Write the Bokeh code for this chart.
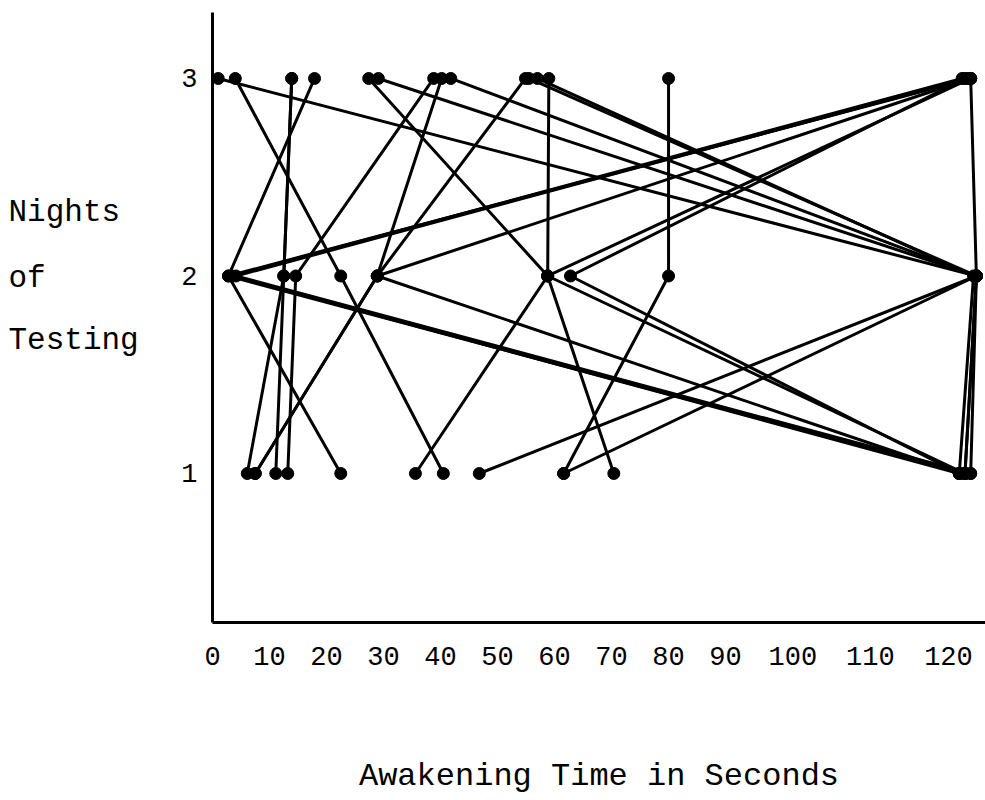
from bokeh.plotting import figure
from bokeh.models import Range1d, FixedTicker
from bokeh.layouts import row
from bokeh.core.properties import value
from bokeh.embed import file_html
from bokeh.resources import INLINE

# Awakening time (seconds) for each subject on nights 1, 2 and 3.
# Values plotted at ~133 are the "120+" (no awakening within 120 s) column at the right edge.
night1 = [22.5, 40.5, 35.6, 46.8, 61.6, 61.6, 70.4, 6.1, 11.1, 13.2, 7.5, 7.5,
          132, 131, 133, 131, 132, 131, 132, 131, 132, 133]
night2 = [2.8, 22.5, 58.8, 134, 80, 134, 58.8, 12.5, 12.5, 14.6, 28.9, 28.9,
          2.8, 3.4, 4.1, 28.9, 58.8, 62.8, 134, 133.5, 134, 134]
night3 = [17.9, 4.0, 27.4, 1.0, 80, 29.1, 59.0, 13.9, 13.9, 38.8, 40.2, 54.9,
          133, 131.5, 132.5, 133, 133, 132, 41.8, 57.0, 55.5, 133]
nights = [1, 2, 3]

x_tick_labels = ["0", "10", "20", "30", "40", "50", "60", "70", "80", "90", "100", "110", "120"]
x_tick_pos = [0, 10, 20, 30, 40, 50, 60, 70, 80, 90, 101.8, 115.4, 129.1]
y_tick_labels = ["1", "2", "3"]
ylabel_lines = ["Nights", "of", "Testing"]

FONT = "Liberation Mono"
TOP, BOTTOM = 12, 178

# ---- left panel holding the stacked y-axis title (ranges in canvas pixels) ----
side = figure(width=150, height=800, output_backend="svg", toolbar_location=None,
              x_range=Range1d(0, 150), y_range=Range1d(800 - BOTTOM, TOP),
              min_border_left=0, min_border_right=0,
              min_border_top=TOP, min_border_bottom=BOTTOM, outline_line_color=None)
side.axis.visible = False
side.grid.visible = False
side.background_fill_color = "white"
side.border_fill_color = "white"
side.text(x=[8, 8, 8], y=[212, 278, 340], text=ylabel_lines,
          text_font=value(FONT), text_font_size="31px", text_color="black",
          text_align="left", text_baseline="middle")

# ---- main chart ----
p = figure(width=835, height=800, output_backend="svg", toolbar_location=None,
           x_range=Range1d(0, 135.6), y_range=Range1d(0.2456, 3.334),
           min_border_left=62, min_border_right=0, min_border_top=TOP, min_border_bottom=BOTTOM)
p.background_fill_color = "white"
p.border_fill_color = "white"
p.outline_line_color = None
p.grid.visible = False

xs = [[a, b, c] for a, b, c in zip(night1, night2, night3)]
ys = [nights for _ in night1]
p.multi_line(xs, ys, line_color="black", line_width=3)

all_x = night1 + night2 + night3
all_y = [1] * len(night1) + [2] * len(night2) + [3] * len(night3)
p.scatter(all_x, all_y, size=12, color="black")

xa = p.xaxis[0]
xa.ticker = FixedTicker(ticks=x_tick_pos)
xa.major_label_overrides = {t: l for t, l in zip(x_tick_pos, x_tick_labels)}
xa.major_tick_line_color = None
xa.minor_tick_line_color = None
xa.axis_line_width = 3
xa.axis_line_color = "black"
xa.major_label_text_font = FONT
xa.major_label_text_font_size = "27px"
xa.major_label_text_color = "black"
xa.major_label_standoff = 18
xa.axis_label = "Awakening Time in Seconds"
xa.axis_label_text_font = FONT
xa.axis_label_text_font_size = "32px"
xa.axis_label_text_font_style = "normal"
xa.axis_label_text_color = "black"
xa.axis_label_standoff = 90

ya = p.yaxis[0]
ya.ticker = FixedTicker(ticks=nights)
ya.major_label_overrides = {n: l for n, l in zip(nights, y_tick_labels)}
ya.major_tick_line_color = None
ya.minor_tick_line_color = None
ya.axis_line_width = 3
ya.axis_line_color = "black"
ya.major_label_text_font = FONT
ya.major_label_text_font_size = "27px"
ya.major_label_text_color = "black"
ya.major_label_standoff = 9

layout = row(side, p, spacing=0)
open("out.html", "w").write(file_html(layout, INLINE))
